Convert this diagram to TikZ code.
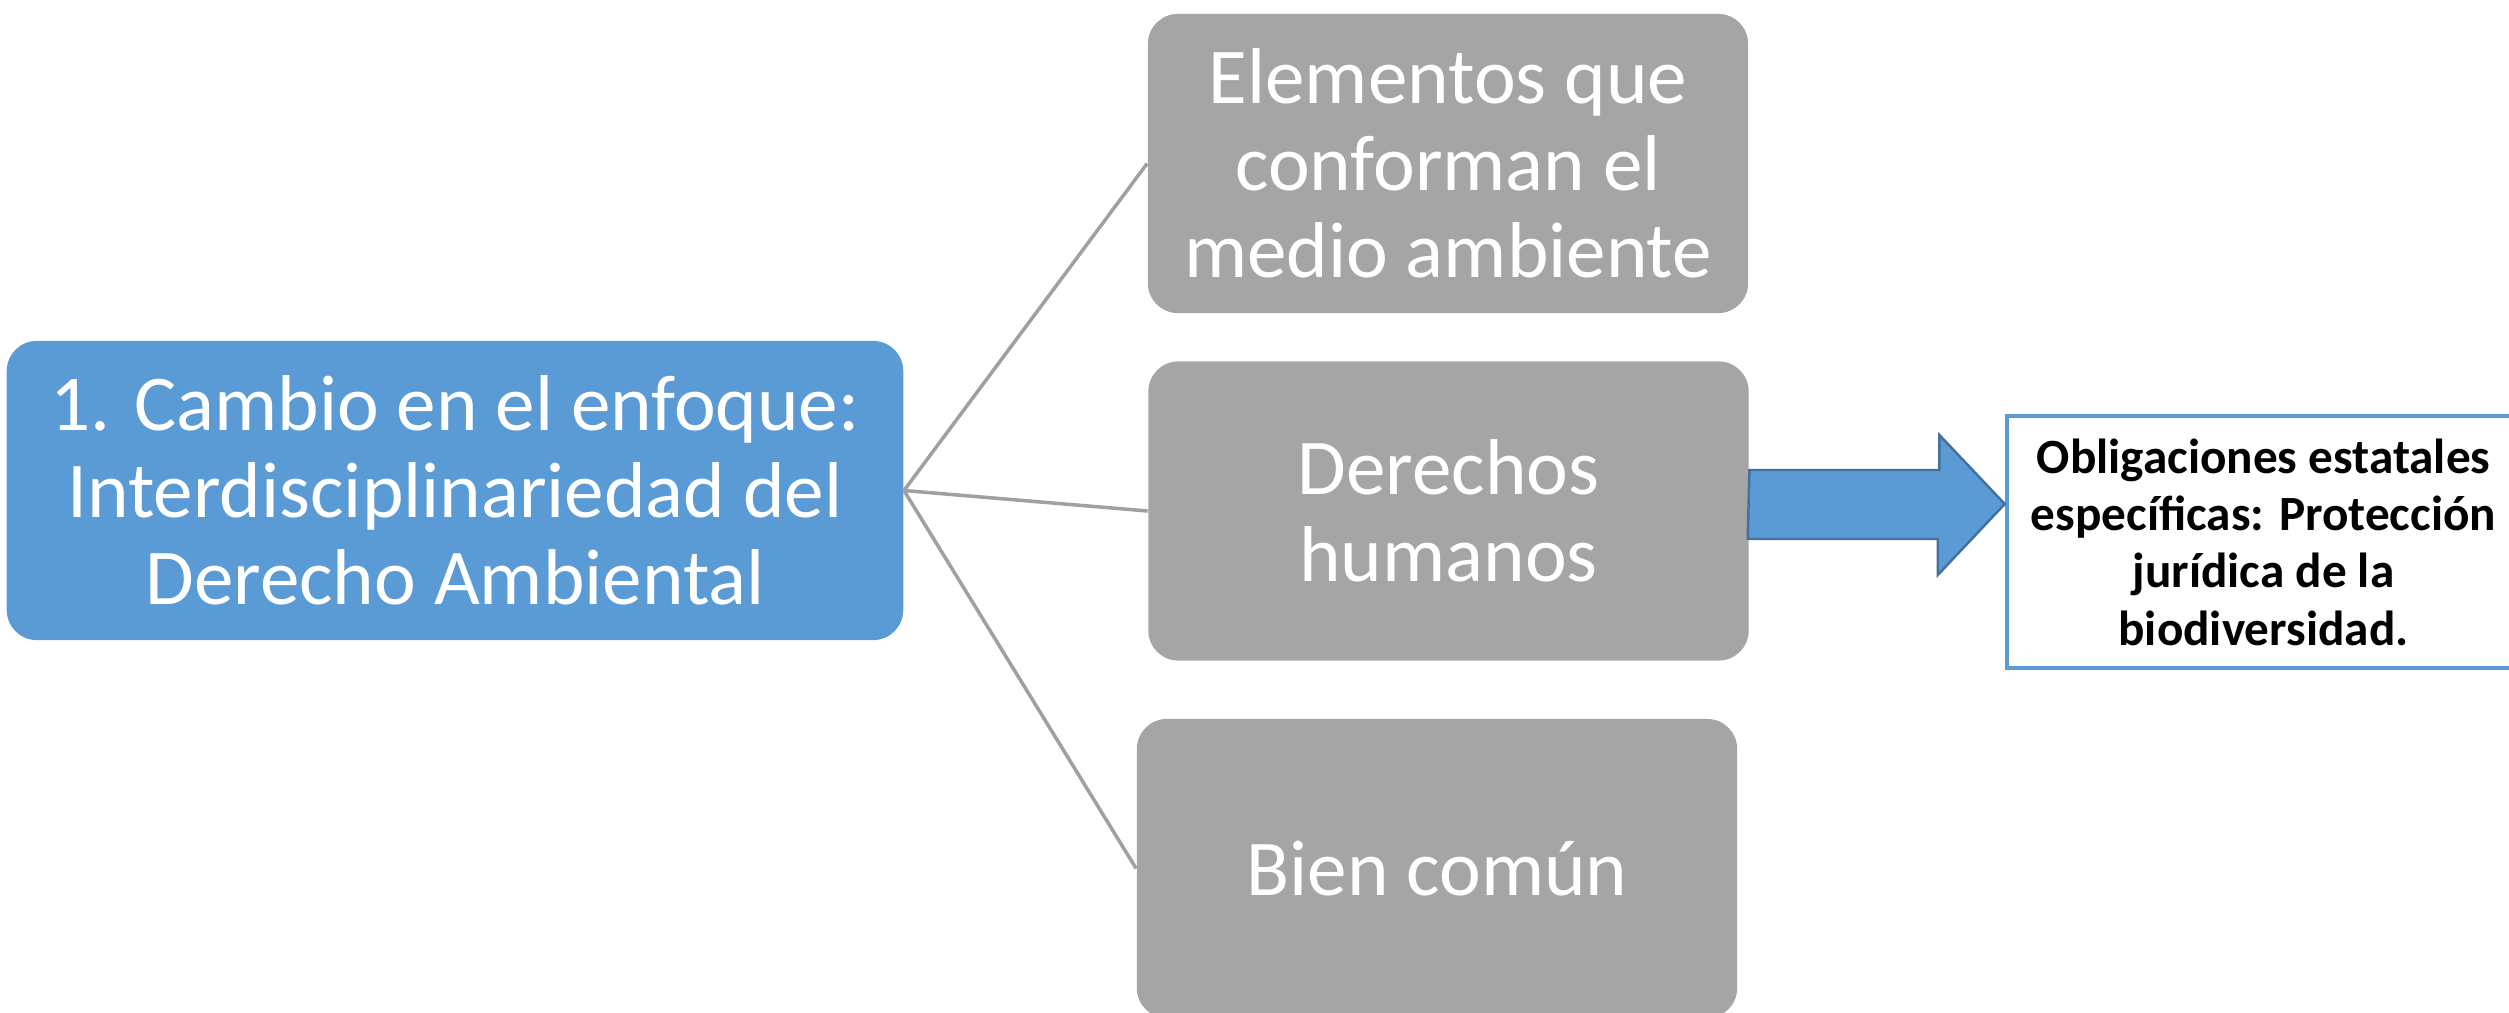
\documentclass[tikz,border=0pt]{standalone}
\usepackage{fontspec}
\setmainfont{Carlito}
\definecolor{sablue}{HTML}{5B9BD5}
\definecolor{sagrey}{HTML}{A5A5A5}
\definecolor{sadark}{HTML}{41719C}
\definecolor{saline}{HTML}{A0A0A0}
\tikzset{
  bigbox/.style={rounded corners=0.3cm, inner sep=0pt, align=center, text=white,
    minimum width=6cm, minimum height=2.99cm,
    font=\fontsize{22.5pt}{24.8pt}\selectfont},
  greybox/.style={bigbox, fill=sagrey},
  bluebox/.style={bigbox, fill=sablue, minimum width=8.96cm},
  oblbox/.style={draw=sablue, line width=1.2pt, fill=white, inner sep=0pt, align=center,
    minimum width=5.13cm, minimum height=2.52cm,
    font=\fontsize{14pt}{16.3pt}\selectfont\bfseries},
  link/.style={draw=saline, line width=1pt},
  blockarrow/.style={fill=sablue, draw=sadark, line width=0.7pt, line join=miter}
}
\begin{document}
\begin{tikzpicture}[x=0.01cm, y=-0.01cm]
\useasboundingbox (0,0) rectangle (2509,1012);
\node[bluebox] (main) at (455,490.5) {1. Cambio en el enfoque:\\Interdisciplinariedad del\\Derecho Ambiental};
\node[greybox] (elem) at (1448,163.5) {Elementos que\\conforman el\\medio ambiente};
\node[greybox] (der) at (1448.5,511) {Derechos\\humanos};
\node[greybox] (bien) at (1437,868.5) {Bien común};
\node[oblbox] (obl) at (2263.5,542) {Obligaciones estatales\\específicas: Protección\\jurídica de la\\biodiversidad.};
\draw[link] (main.east) -- (elem.west);
\draw[link] (main.east) -- (der.west);
\draw[link] (main.east) -- (bien.west);
\coordinate (as) at (der.east |- 0,504.5);
\coordinate (at) at (obl.west |- 0,504);
\draw[blockarrow] (as) ++(0,-34.5) -- ++(190,0) -- ++(0,-35) -- (at) -- ++(-67,71) -- ++(0,-36) -- ++(-190,0) -- cycle;
\end{tikzpicture}
\end{document}
